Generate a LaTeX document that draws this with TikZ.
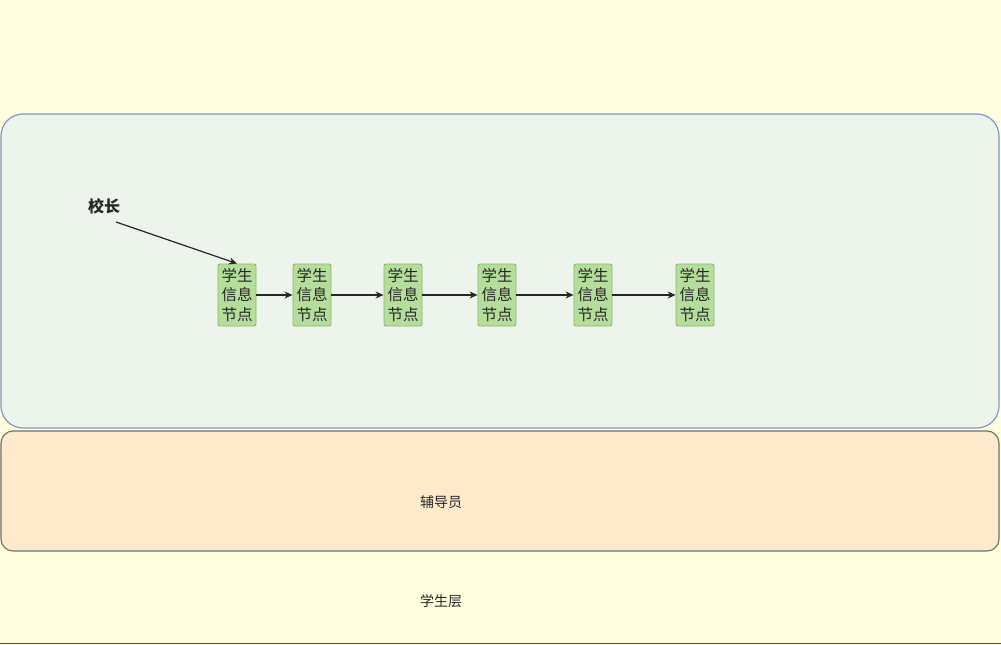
\documentclass[tikz,border=0pt]{standalone}
\usepackage{fontspec}
\newfontfamily\cjk{Noto Sans CJK SC}
\usetikzlibrary{arrows.meta}
\definecolor{bgyel}{HTML}{FFFFDF}
\definecolor{bluefill}{HTML}{EDF4EC}
\definecolor{blueline}{HTML}{7E98C4}
\definecolor{orfill}{HTML}{FFEACB}
\definecolor{orline}{HTML}{6E6E6E}
\definecolor{nodefill}{HTML}{B5DD9C}
\definecolor{nodeline}{HTML}{86BA6A}
\tikzset{
  stu/.style={draw=nodeline, fill=nodefill, line width=0.9pt, rounded corners=2pt,
    minimum width=38pt, minimum height=62pt, inner sep=0pt, align=center,
    font=\cjk\fontsize{15.5}{19.5}\selectfont, text=black!85},
  link/.style={draw=black!85, line width=1.2pt, -{Stealth[length=8pt,width=7pt]}},
  lbl/.style={font=\cjk\fontsize{14}{16}\selectfont, text=black!85}
}
\begin{document}
\begin{tikzpicture}[x=1pt,y=-1pt]
\useasboundingbox (0,0) rectangle (1001,645);
\fill[bgyel] (0,0) rectangle (1001,645);
\draw[black!70, line width=1pt] (0,643) -- (1001,643);
% containers
\draw[draw=blueline, fill=bluefill, line width=1.2pt, rounded corners=22pt] (1,114) rectangle (999,428);
\draw[draw=orline, fill=orfill, line width=1.1pt, rounded corners=12pt] (1,431) rectangle (999,551);
% labels
\node[lbl, font=\cjk\bfseries\fontsize{16}{18}\selectfont] (xz) at (104,206) {校长};
\node[lbl] (fdy) at (441,502) {辅导员};
\node[lbl] (xsc) at (441,601) {学生层};
% student nodes
\node[stu] (s1) at (237,295) {学生\\信息\\节点};
\node[stu] (s2) at (312,295) {学生\\信息\\节点};
\node[stu] (s3) at (403,295) {学生\\信息\\节点};
\node[stu] (s4) at (497,295) {学生\\信息\\节点};
\node[stu] (s5) at (593,295) {学生\\信息\\节点};
\node[stu] (s6) at (695,295) {学生\\信息\\节点};
% arrows
\draw[link] (116,222) -- (s1.north);
\draw[link] (s1) -- (s2);
\draw[link] (s2) -- (s3);
\draw[link] (s3) -- (s4);
\draw[link] (s4) -- (s5);
\draw[link] (s5) -- (s6);
\end{tikzpicture}
\end{document}
